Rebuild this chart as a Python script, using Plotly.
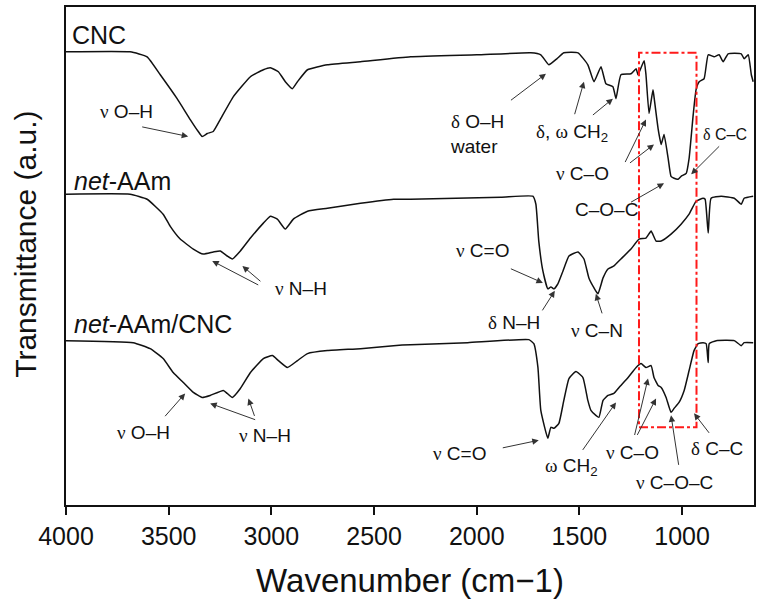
import plotly.graph_objects as go

# ---------------- data ----------------
cnc_wn = [4000, 3688, 3605, 3541, 3459, 3395, 3356, 3337, 3312, 3283, 3249, 3185, 3102, 3039, 3005,
          2966, 2932, 2898, 2873, 2824, 2727, 2566, 2322, 2000, 1737, 1688, 1649, 1610, 1576, 1507,
          1459, 1429, 1395, 1371, 1337, 1322, 1298, 1249, 1224, 1215, 1185, 1176, 1161, 1142, 1137,
          1117, 1102, 1088, 1068, 1054, 1039, 1020, 1005, 980, 966, 946, 932, 917, 893, 873,
          844, 820, 800, 776, 712, 698, 678, 663, 654]
cnc_t = [455, 455, 450, 432, 408, 387, 375, 370, 373, 375, 387, 410, 430, 437, 439,
         435, 425, 418, 425, 437, 442, 445, 450, 452, 454, 452, 442, 448, 454, 454,
         442, 425, 440, 423, 420, 408, 432, 433, 438, 432, 446, 432, 393, 417, 410,
         378, 362, 372, 348, 330, 328, 327, 330, 333, 348, 392, 417, 425, 428, 452,
         450, 452, 445, 453, 453, 448, 452, 432, 425]

aam_wn = [4000, 3688, 3605, 3527, 3493, 3444, 3380, 3332, 3283, 3249, 3215, 3190, 3151, 3102, 3039,
          3005, 2971, 2932, 2893, 2824, 2727, 2566, 2405, 2322, 1883, 1727, 1712, 1698, 1678, 1654,
          1639, 1624, 1605, 1580, 1551, 1507, 1478, 1454, 1429, 1410, 1385, 1361, 1332, 1298, 1249,
          1210, 1176, 1151, 1127, 1102, 1054, 1005, 966, 932, 898, 888, 873, 859, 810, 746,
          712, 698, 654]
aam_t = [312, 312, 307, 292, 280, 267, 257, 252, 254, 255, 250, 247, 255, 268, 283,
         290, 287, 277, 287, 295, 298, 303, 307, 307, 309, 310, 302, 265, 235, 217,
         219, 217, 222, 235, 250, 254, 247, 228, 218, 212, 228, 237, 240, 247, 257,
         267, 268, 275, 265, 265, 272, 282, 292, 305, 308, 307, 273, 308, 310, 308,
         302, 308, 310]

comp_wn = [4000, 3673, 3590, 3527, 3478, 3429, 3380, 3337, 3298, 3234, 3215, 3190, 3151, 3102, 3039,
           2995, 2966, 2922, 2873, 2824, 2727, 2566, 2405, 2322, 2044, 1746, 1722, 1702, 1688, 1654,
           1639, 1624, 1600, 1576, 1551, 1517, 1483, 1459, 1444, 1420, 1405, 1385, 1361, 1332, 1307,
           1263, 1224, 1200, 1176, 1151, 1137, 1117, 1102, 1078, 1054, 1039, 1015, 990, 966, 942,
           922, 898, 883, 873, 868, 834, 746, 712, 698, 654]
comp_t = [165, 163, 157, 147, 133, 123, 113, 108, 110, 115, 112, 108, 117, 133, 147,
          150, 145, 138, 145, 152, 155, 157, 160, 161, 163, 166, 162, 138, 95, 67,
          78, 77, 82, 105, 127, 134, 128, 105, 95, 90, 88, 105, 110, 112, 118,
          128, 138, 142, 138, 140, 128, 120, 118, 108, 93, 97, 103, 115, 135, 155,
          162, 163, 162, 143, 162, 165, 165, 160, 163, 163]

x_ticks = [4000, 3500, 3000, 2500, 2000, 1500, 1000]
box_wn = [1210, 930]
box_t = [78, 454]

FONT = "Liberation Sans, Arial, sans-serif"
GREEK = '<span style="font-family:Liberation Serif, Times New Roman, serif">'

def g(ch):
    return GREEK + ch + "</span>"

fig = go.Figure()
for wn, t in [(cnc_wn, cnc_t), (aam_wn, aam_t), (comp_wn, comp_t)]:
    fig.add_trace(go.Scatter(x=wn, y=t, mode="lines",
                             line=dict(color="#111111", width=1.5, shape="spline", smoothing=0.4),
                             hoverinfo="skip", showlegend=False))

# red dash-dot box
fig.add_shape(type="rect", x0=box_wn[0], x1=box_wn[1], y0=box_t[0], y1=box_t[1],
              xref="x", yref="y", line=dict(color="#ff1a1a", width=2, dash="dashdot"))

annotations = []

# sample labels
for txt, x, y in [("CNC", 3980, 472), ("<i>net</i>-AAm", 3971, 325), ("<i>net</i>-AAm/CNC", 3971, 182)]:
    annotations.append(dict(text=txt, x=x, y=y, xref="x", yref="y", xanchor="left", yanchor="middle",
                            showarrow=False, font=dict(size=25, color="#111", family=FONT)))

# band labels (text, x, y, size)
labels = [
    (g("ν") + " O–H", 3707, 395, 19, "center"),
    (g("δ") + " O–H<br>water", 2141, 372, 19, "left"),
    (g("δ") + ", " + g("ω") + " CH<sub>2</sub>", 1722, 373, 19, "left"),
    (g("ν") + " C–O", 1624, 333, 19, "left"),
    (g("δ") + " C–C", 907, 372, 16, "left"),
    ("C–O–C", 1532, 297, 19, "left"),
    (g("ν") + " N–H", 2990, 217, 19, "left"),
    (g("ν") + " C=O", 2112, 256, 19, "left"),
    (g("δ") + " N–H", 1956, 183, 19, "left"),
    (g("ν") + " C–N", 1551, 175, 19, "left"),
    (g("ν") + " O–H", 3761, 73, 19, "left"),
    (g("ν") + " N–H", 3166, 70, 19, "left"),
    (g("ν") + " C=O", 2224, 52, 19, "left"),
    (g("ω") + " CH<sub>2</sub>", 1678, 38, 19, "left"),
    (g("ν") + " C–O", 1381, 53, 19, "left"),
    (g("ν") + " C–O–C", 1234, 23, 19, "left"),
    (g("δ") + " C–C", 966, 57, 19, "left"),
]
for txt, x, y, s, anc in labels:
    annotations.append(dict(text=txt, x=x, y=y, xref="x", yref="y", xanchor=anc, yanchor="middle",
                            align="left", showarrow=False, font=dict(size=s, color="#111", family=FONT)))

# arrows: head (x, y) in data units, tail offset in pixels
arrows = [
    (3405, 370, -48, -10), (1663, 433, -37, 28), (1478, 425, -10, 35), (1337, 408, -22, 18),
    (1176, 387, -22, 45), (1137, 362, -26, 20), (956, 332, 30, -30), (1088, 323, -35, 20),
    (3288, 245, 48, 25), (3141, 240, 20, 17), (1678, 223, -34, -15), (1620, 215, -14, 22),
    (1420, 212, 7, 22), (3420, 112, -22, 25), (3298, 102, 47, 17), (3112, 107, 7, 20),
    (1698, 65, -38, 8), (1322, 103, -35, 50), (1166, 127, -14, 59), (1127, 107, -20, 39),
    (1054, 90, 8, 52), (942, 92, 17, 22),
]
for x, y, ax, ay in arrows:
    annotations.append(dict(text=" ", x=x, y=y, xref="x", yref="y", ax=ax, ay=ay, showarrow=True,
                            arrowhead=2, arrowsize=1.3, arrowwidth=1, arrowcolor="#333", standoff=0,
                            font=dict(size=2)))

# y-axis title
annotations.append(dict(text="Transmittance (a.u.)", x=-0.06, y=0.524, xref="paper", yref="paper",
                        textangle=-90, showarrow=False, xanchor="center", yanchor="middle",
                        font=dict(size=30, color="#111", family=FONT)))

fig.update_layout(
    width=761, height=604,
    margin=dict(l=66, r=7, t=5, b=99),
    paper_bgcolor="white", plot_bgcolor="white",
    font=dict(family=FONT, color="#111"),
    annotations=annotations,
    xaxis=dict(range=[4000, 650], tickvals=x_ticks, ticks="outside", ticklen=8, tickwidth=1.5,
               tickcolor="#111", showline=True, linecolor="#111", linewidth=2, mirror=True,
               showgrid=False, zeroline=False, tickfont=dict(size=25, family=FONT, color="#111"),
               title=dict(text="Wavenumber (cm−1)", font=dict(size=33, family=FONT, color="#111"),
                          standoff=20)),
    yaxis=dict(range=[0, 500], showticklabels=False, ticks="", showline=True, linecolor="#111",
               linewidth=2, mirror=True, showgrid=False, zeroline=False),
)

fig.write_html("out.html", config={"displayModeBar": False},
               post_script="document.body.style.margin='0px';document.body.style.overflow='hidden';")
